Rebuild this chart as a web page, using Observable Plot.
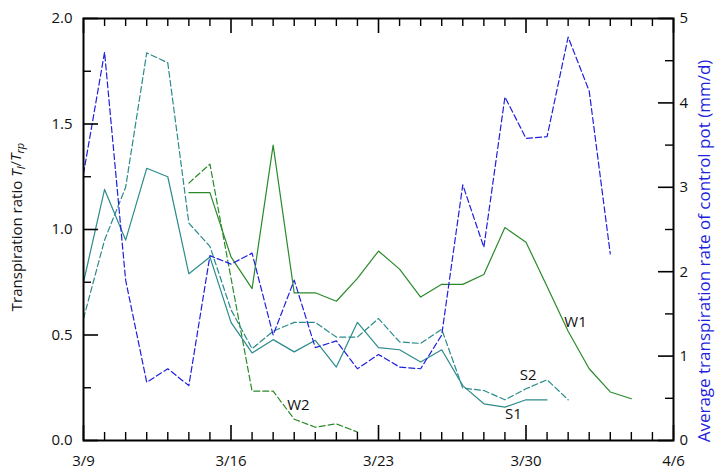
<!DOCTYPE html>
<html><head><meta charset="utf-8">
<script src="https://cdn.jsdelivr.net/npm/d3@7"></script>
<script src="https://cdn.jsdelivr.net/npm/@observablehq/plot@0.6"></script>
<style>body{margin:0;background:#fff} svg{display:block}</style>
</head><body><div id="chart"></div>
<script>
// x positions: day offset from 3/9
const dayTickLabels = ["3/9", "3/16", "3/23", "3/30", "4/6"];
const dayTicks = [0, 7, 14, 21, 28];
const leftTicks = [0, 0.5, 1.0, 1.5, 2.0];
const leftMinor = [0.25, 0.75, 1.25, 1.75];
const rightTicks = [0, 1, 2, 3, 4, 5];
const rightMinor = [0.5, 1.5, 2.5, 3.5, 4.5];

// Average transpiration rate of control pot (mm/d), right axis, from 3/9
const rateStart = 0;
const rate = [3.16, 4.60, 1.90, 0.69, 0.85, 0.65, 2.19, 2.09, 2.22, 1.25, 1.90, 1.10, 1.18,
              0.85, 1.02, 0.87, 0.85, 1.25, 3.03, 2.29, 4.07, 3.58, 3.60, 4.78, 4.14, 2.21];
// Transpiration ratios, left axis
const s1Start = 0;
const s1 = [0.75, 1.19, 0.95, 1.29, 1.25, 0.79, 0.87, 0.56, 0.415, 0.478, 0.42, 0.475, 0.348,
            0.56, 0.44, 0.43, 0.372, 0.43, 0.26, 0.174, 0.158, 0.193, 0.193];
const s2Start = 0;
const s2 = [0.578, 0.95, 1.20, 1.837, 1.79, 1.03, 0.92, 0.62, 0.435, 0.518, 0.56, 0.56, 0.49,
            0.49, 0.578, 0.467, 0.46, 0.527, 0.248, 0.237, 0.193, 0.245, 0.288, 0.193];
const w1Start = 5;
const w1 = [1.175, 1.175, 0.87, 0.72, 1.40, 0.70, 0.70, 0.66, 0.768, 0.898, 0.812, 0.68, 0.74,
            0.74, 0.787, 1.009, 0.94, 0.73, 0.518, 0.34, 0.23, 0.198];
const w2Start = 5;
const w2 = [1.22, 1.31, 0.77, 0.234, 0.234, 0.101, 0.063, 0.079, 0.04];

const seriesNames = ["W1", "W2", "S1", "S2"];
const seriesLabelDays = [23.35, 10.2, 20.4, 21.1];
const seriesLabelValues = [0.56, 0.166, 0.124, 0.31];

const k = 2 / 5; // right-axis units -> left-axis units
const rows = (start, vals) => vals.map((v, i) => ({day: start + i, value: v}));
const labelRows = seriesNames.map((n, i) => ({name: n, day: seriesLabelDays[i], value: seriesLabelValues[i]}));

const W = 716, H = 472, mL = 83, mR = 43, mT = 18, mB = 32;
const pw = W - mL - mR, ph = H - mT - mB;
const BLUE = "#1f1fe0", TEAL = "#2b8b8c", GREEN = "#2a8a2a";
const minorDays = d3.range(0, 29).filter(d => d % 7 !== 0);

const chart = Plot.plot({
  width: W, height: H,
  marginLeft: mL, marginRight: mR, marginTop: mT, marginBottom: mB,
  x: {domain: [0, 28]},
  y: {domain: [0, 2]},
  style: {fontFamily: "'Open Sans', sans-serif", fontSize: "15px", color: "#111", background: "#fff"},
  marks: [
    Plot.line(rows(w2Start, w2), {x: "day", y: "value", stroke: GREEN, strokeWidth: 1.2, strokeDasharray: "6,3"}),
    Plot.line(rows(w1Start, w1), {x: "day", y: "value", stroke: GREEN, strokeWidth: 1.2}),
    Plot.line(rows(s2Start, s2), {x: "day", y: "value", stroke: TEAL, strokeWidth: 1.2, strokeDasharray: "6,3"}),
    Plot.line(rows(s1Start, s1), {x: "day", y: "value", stroke: TEAL, strokeWidth: 1.2}),
    Plot.line(rows(rateStart, rate), {x: "day", y: d => d.value * k, stroke: BLUE, strokeWidth: 1.2, strokeDasharray: "6,3"}),
    Plot.frame({stroke: "#000", strokeWidth: 2}),
    // bottom & top ticks (inward)
    Plot.tickX(dayTicks, {x: d => d, insetTop: ph - 15, stroke: "#000", strokeWidth: 1.6}),
    Plot.tickX(minorDays, {x: d => d, insetTop: ph - 8, stroke: "#000", strokeWidth: 1.4}),
    Plot.tickX(dayTicks, {x: d => d, insetBottom: ph - 15, stroke: "#000", strokeWidth: 1.6}),
    Plot.tickX(minorDays, {x: d => d, insetBottom: ph - 8, stroke: "#000", strokeWidth: 1.4}),
    // left ticks
    Plot.tickY(leftTicks, {y: d => d, insetRight: pw - 15, stroke: "#000", strokeWidth: 1.6}),
    Plot.tickY(leftMinor, {y: d => d, insetRight: pw - 8, stroke: "#000", strokeWidth: 1.4}),
    // right ticks
    Plot.tickY(rightTicks, {y: d => d * k, insetLeft: pw - 15, stroke: "#000", strokeWidth: 1.6}),
    Plot.tickY(rightMinor, {y: d => d * k, insetLeft: pw - 8, stroke: "#000", strokeWidth: 1.4}),
    Plot.axisX({ticks: dayTicks, tickFormat: d => dayTickLabels[dayTicks.indexOf(d)], tickSize: 0, tickPadding: 15, label: null, fontSize: 15}),
    Plot.axisY({ticks: leftTicks, tickFormat: d3.format(".1f"), tickSize: 0, tickPadding: 11, label: null, fontSize: 15}),
    Plot.axisY({anchor: "right", ticks: rightTicks.map(v => v * k), tickFormat: d => String(Math.round(d / k)), tickSize: 0, tickPadding: 6, label: null, fontSize: 15}),
    Plot.text(labelRows, {x: "day", y: "value", text: "name", fontSize: 15, fill: "#111"})
  ]
});
document.getElementById("chart").appendChild(chart);

const svg = d3.select(chart);
const lt = svg.append("text")
  .attr("transform", "translate(22,227) rotate(-90)")
  .attr("text-anchor", "middle")
  .attr("font-family", "'Open Sans', sans-serif")
  .attr("font-size", 15)
  .attr("fill", "#111");
lt.append("tspan").text("Transpiration ratio ");
lt.append("tspan").attr("font-style", "italic").text("T");
lt.append("tspan").attr("font-style", "italic").attr("font-size", 11).attr("dy", "0.3em").text("l");
lt.append("tspan").attr("dy", "-0.3em").text("/");
lt.append("tspan").attr("font-style", "italic").text("T");
lt.append("tspan").attr("font-style", "italic").attr("font-size", 11).attr("dy", "0.3em").text("rp");

svg.append("text")
  .attr("transform", "translate(710,251) rotate(-90)")
  .attr("text-anchor", "middle")
  .attr("font-family", "'Open Sans', sans-serif")
  .attr("font-size", 17)
  .attr("fill", BLUE)
  .text("Average transpiration rate of control pot (mm/d)");
</script>
</body></html>
